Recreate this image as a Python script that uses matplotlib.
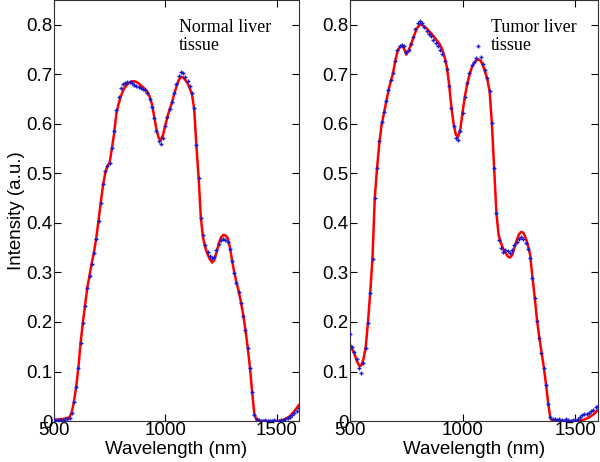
import matplotlib.pyplot as plt
import numpy as np

# wavelength grid (nm), 10 nm step
wavelength = np.arange(500, 1601, 10)

# normal liver tissue: fitted curve (red) and measured points (blue)
normal_fit = [
    0.003, 0.003, 0.003, 0.004, 0.004, 0.005, 0.006, 0.008, 0.018, 0.040,
    0.070, 0.110, 0.160, 0.200, 0.235, 0.270, 0.295, 0.320, 0.342, 0.370,
    0.405, 0.440, 0.475, 0.500, 0.515, 0.522, 0.550, 0.580, 0.620, 0.640,
    0.655, 0.667, 0.675, 0.680, 0.684, 0.686, 0.686, 0.685, 0.682, 0.678,
    0.674, 0.670, 0.665, 0.655, 0.640, 0.615, 0.590, 0.572, 0.567, 0.578,
    0.597, 0.615, 0.630, 0.643, 0.660, 0.675, 0.688, 0.695, 0.694, 0.689,
    0.682, 0.672, 0.660, 0.630, 0.555, 0.490, 0.410, 0.370, 0.350, 0.337,
    0.327, 0.320, 0.325, 0.340, 0.358, 0.370, 0.376, 0.375, 0.370, 0.352,
    0.325, 0.300, 0.280, 0.262, 0.240, 0.215, 0.185, 0.150, 0.110, 0.060,
    0.015, 0.002, 0.000, 0.000, 0.000, 0.000, 0.000, 0.000, 0.000, 0.000,
    0.000, 0.000, 0.001, 0.002, 0.004, 0.007, 0.010, 0.015, 0.020, 0.026,
    0.032,
]
normal_meas = [
    0.002, 0.001, 0.002, 0.003, 0.003, 0.004, 0.005, 0.007, 0.016, 0.038,
    0.068, 0.108, 0.158, 0.198, 0.233, 0.268, 0.293, 0.318, 0.340, 0.368,
    0.403, 0.440, 0.478, 0.505, 0.515, 0.522, 0.552, 0.585, 0.628, 0.655,
    0.672, 0.680, 0.682, 0.684, 0.684, 0.682, 0.679, 0.677, 0.675, 0.673,
    0.671, 0.668, 0.662, 0.650, 0.635, 0.612, 0.585, 0.565, 0.560, 0.572,
    0.595, 0.614, 0.630, 0.645, 0.663, 0.680, 0.697, 0.705, 0.702, 0.694,
    0.686, 0.676, 0.663, 0.633, 0.557, 0.490, 0.410, 0.375, 0.355, 0.342,
    0.333, 0.330, 0.332, 0.345, 0.358, 0.366, 0.368, 0.366, 0.362, 0.348,
    0.323, 0.298, 0.278, 0.260, 0.238, 0.213, 0.183, 0.148, 0.108, 0.058,
    0.013, 0.004, 0.002, 0.001, 0.000, 0.002, 0.001, 0.000, 0.001, 0.002,
    0.001, 0.000, 0.002, 0.003, 0.004, 0.006, 0.008, 0.012, 0.016, 0.021,
    0.026,
]

# tumor liver tissue: fitted curve (red) and measured points (blue)
tumor_fit = [
    0.155, 0.145, 0.135, 0.122, 0.112, 0.112, 0.125, 0.150, 0.200, 0.260,
    0.330, 0.450, 0.510, 0.560, 0.597, 0.620, 0.643, 0.665, 0.685, 0.700,
    0.725, 0.745, 0.755, 0.758, 0.752, 0.740, 0.748, 0.760, 0.772, 0.785,
    0.795, 0.800, 0.800, 0.797, 0.793, 0.788, 0.783, 0.778, 0.772, 0.766,
    0.760, 0.750, 0.735, 0.715, 0.680, 0.635, 0.600, 0.578, 0.574, 0.590,
    0.625, 0.655, 0.680, 0.698, 0.713, 0.722, 0.728, 0.730, 0.728, 0.718,
    0.705, 0.690, 0.665, 0.600, 0.510, 0.420, 0.375, 0.360, 0.348, 0.340,
    0.333, 0.330, 0.335, 0.350, 0.365, 0.377, 0.382, 0.380, 0.370, 0.355,
    0.335, 0.290, 0.250, 0.205, 0.170, 0.140, 0.110, 0.075, 0.035, 0.005,
    0.000, 0.000, 0.000, 0.000, 0.000, 0.000, 0.000, 0.000, 0.000, 0.000,
    0.000, 0.000, 0.001, 0.002, 0.003, 0.005, 0.007, 0.010, 0.013, 0.017,
    0.022,
]
tumor_meas = [
    0.175, 0.150, 0.140, 0.125, 0.108, 0.097, 0.118, 0.148, 0.198, 0.258,
    0.328, 0.450, 0.512, 0.565, 0.603, 0.625, 0.647, 0.668, 0.688, 0.703,
    0.728, 0.750, 0.758, 0.760, 0.757, 0.745, 0.750, 0.762, 0.776, 0.792,
    0.803, 0.807, 0.803, 0.795, 0.788, 0.782, 0.777, 0.770, 0.763, 0.757,
    0.750, 0.742, 0.728, 0.710, 0.676, 0.632, 0.596, 0.572, 0.568, 0.585,
    0.622, 0.654, 0.682, 0.702, 0.718, 0.726, 0.733, 0.758, 0.735, 0.722,
    0.708, 0.692, 0.667, 0.602, 0.510, 0.420, 0.365, 0.350, 0.342, 0.345,
    0.343, 0.340, 0.345, 0.355, 0.362, 0.368, 0.372, 0.368, 0.360, 0.348,
    0.330, 0.288, 0.248, 0.203, 0.168, 0.138, 0.108, 0.073, 0.035, 0.008,
    0.005, 0.004, 0.002, 0.005, 0.003, 0.001, 0.004, 0.002, 0.000, 0.003,
    0.002, 0.005, 0.008, 0.012, 0.015, 0.014, 0.016, 0.020, 0.022, 0.028,
    0.030,
]

panels = [
    (normal_meas, normal_fit, "Normal liver\ntissue", 0.0900, 0.408, 0.51),
    (tumor_meas, tumor_fit, "Tumor liver\ntissue", 0.5833, 0.413, 0.57),
]

fig = plt.figure(figsize=(6, 4.62), dpi=100)
plt.rcParams['font.family'] = ['Liberation Sans', 'DejaVu Sans']

for i, (meas, fit, label, left, width, tx) in enumerate(panels):
    ax = fig.add_axes([left, 0.0887, width, 0.911])
    ax.plot(wavelength, fit, color='red', lw=1.8, zorder=2)
    ax.plot(wavelength, meas, ls='none', marker='+', ms=3.5, mew=1.0,
            color='#1a1acc', zorder=3)
    ax.set_xlim(500, 1600)
    ax.set_ylim(0, 0.85)
    ax.set_xticks([500, 1000, 1500])
    ax.set_yticks([0, 0.1, 0.2, 0.3, 0.4, 0.5, 0.6, 0.7, 0.8])
    ax.set_yticklabels(['0', '0.1', '0.2', '0.3', '0.4', '0.5', '0.6', '0.7', '0.8'])
    ax.tick_params(direction='in', top=True, right=True, length=5,
                   labelsize=13.5, pad=1)
    for s in ax.spines.values():
        s.set_color('#333333')
    ax.set_xlabel('Wavelength (nm)', fontsize=13.5, labelpad=1)
    ax.text(tx, 0.955, label, transform=ax.transAxes, ha='left', va='top',
            family='Liberation Serif', fontsize=13, linespacing=1.05)
    if i == 0:
        ax.set_ylabel('Intensity (a.u.)', fontsize=13.5, labelpad=1)

fig.savefig('out.png', dpi=100)
